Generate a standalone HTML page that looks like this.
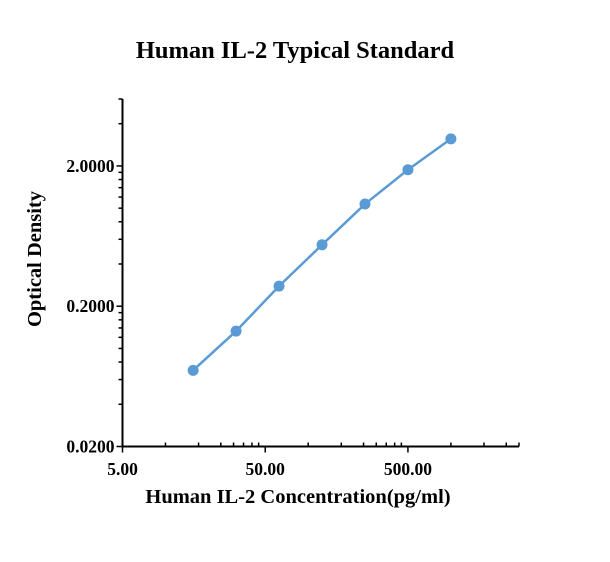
<!DOCTYPE html>
<html><head><meta charset="utf-8"><style>
body{margin:0;background:#fff}
svg text{font-family:"Liberation Serif",serif;font-weight:bold;fill:#000}
</style></head><body>
<svg width="610" height="557">
<rect width="610" height="557" fill="#fff"/>
<text x="295" y="58" text-anchor="middle" font-size="24.5">Human IL-2 Typical Standard</text>
<text x="298" y="503" text-anchor="middle" font-size="20.5">Human IL-2 Concentration(pg/ml)</text>
<text transform="translate(41,259) rotate(-90)" text-anchor="middle" font-size="20.5">Optical Density</text>
<g id="axes"></g>
<g id="marks"></g>
</svg>
<script>
const xValues=[15.625,31.25,62.5,125,250,500,1000];
const yValues=[0.0698,0.133,0.278,0.548,1.07,1.88,3.12];
const xTicks=[5,50,500];
const xTickLabels=["5.00","50.00","500.00"];
const yTicks=[0.02,0.2,2];
const yTickLabels=["0.0200","0.2000","2.0000"];
const X0=122.5,X1=519,Y0=446.5,Y1=99;
const xMin=5,xMax=3000,yMin=0.02,yMax=6.0;
const ns="http://www.w3.org/2000/svg";
function xs(v){return X0+(Math.log10(v)-Math.log10(xMin))/(Math.log10(xMax)-Math.log10(xMin))*(X1-X0);}
function ys(v){return Y0-(Math.log10(v)-Math.log10(yMin))/(Math.log10(yMax)-Math.log10(yMin))*(Y0-Y1);}
function mk(tag,attrs,parent){const e=document.createElementNS(ns,tag);for(const k in attrs)e.setAttribute(k,attrs[k]);parent.appendChild(e);return e;}
const ax=document.getElementById('axes');
const yl=mk('line',{x1:X0,y1:Y1,x2:X0,y2:Y0,stroke:'#000','stroke-width':2},ax);


const xl=mk('line',{x1:X0-1,y1:Y0,x2:X1,y2:Y0,stroke:'#000','stroke-width':2},ax);


for(let d=-2;d<=0;d++){for(let m=1;m<=9;m++){const v=2*m*Math.pow(10,d);if(v>yMax)continue;const y=ys(v);const major=m===1;
const t=mk('line',{x1:major?X0-6:X0-4,y1:y,x2:X0,y2:y,stroke:'#000','stroke-width':1.5},ax);

}}
yTicks.forEach((v,i)=>{const t=mk('text',{x:X0-8,y:ys(v)+6,'text-anchor':'end','font-size':17.5},ax);t.textContent=yTickLabels[i];

});
const fr=[0.301,0.533,0.689,0.778,0.848,0.907,0.954];
for(let d=0;d<3;d++){const base=5*Math.pow(10,d);
if(xs(base)<=X1+1){const t=mk('line',{x1:xs(base),y1:Y0,x2:xs(base),y2:Y0+6,stroke:'#000','stroke-width':1.5},ax);

}
fr.forEach(f=>{const v=base*Math.pow(10,f);const x=xs(v);if(x>X1+1)return;const t=mk('line',{x1:x,y1:Y0-4,x2:x,y2:Y0,stroke:'#000','stroke-width':1.5},ax);

});}
xTicks.forEach((v,i)=>{const t=mk('text',{x:xs(v),y:475,'text-anchor':'middle','font-size':17.5},ax);t.textContent=xTickLabels[i];

});
const mg=document.getElementById('marks');
const pl=mk('polyline',{points:xValues.map((v,i)=>xs(v)+','+ys(yValues[i])).join(' '),fill:'none',stroke:'#5B9BD5','stroke-width':2.5},mg);


xValues.forEach((v,i)=>{const c=mk('circle',{cx:xs(v),cy:ys(yValues[i]),r:5.5,fill:'#5B9BD5'},mg);

});
</script>
</body></html>
